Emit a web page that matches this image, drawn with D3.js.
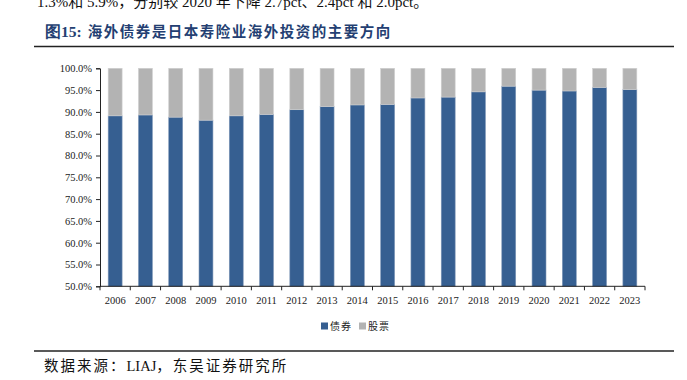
<html>
<head>
  <meta charset="UTF-8">
  <title>海外债券是日本寿险业海外投资的主要方向</title>
  <style>
    body { margin: 0; padding: 0; background: #fff; }
    svg { display: block; }
  </style>
</head>
<body>
  <div id="chart"></div>
  <script src="https://cdnjs.cloudflare.com/ajax/libs/d3/7.8.4/d3.min.js"></script>
  <script>
    // data (bond share, %)
    const years = ["2006", "2007", "2008", "2009", "2010", "2011", "2012", "2013", "2014",
      "2015", "2016", "2017", "2018", "2019", "2020", "2021", "2022", "2023"];
    const bonds = [89.1, 89.3, 88.8, 88.1, 89.1, 89.4, 90.5, 91.2, 91.6,
      91.7, 93.2, 93.4, 94.6, 95.9, 95.0, 94.8, 95.6, 95.1];
    const stocks = bonds.map(v => 100 - v);
    const yTicks = [50, 55, 60, 65, 70, 75, 80, 85, 90, 95, 100];
    const seriesNames = ["债券", "股票"];

    const width = 687, height = 380;
    const plotLeft = 100, plotRight = 645, plotTop = 68.3, plotBottom = 286.3;
    const blue = "#365f91", grey = "#b3b3b3";
    const serif = "'Liberation Serif', 'Times New Roman', serif";
    const cjk = "'Noto Sans CJK SC', sans-serif";

    const svg = d3.select("#chart").append("svg")
      .attr("width", width).attr("height", height);

    // text from the page above the chart (cut off by the crop)
    svg.append("text")
      .attr("x", 37).attr("y", 7)
      .attr("font-family", serif + ", " + cjk).attr("font-size", 15).attr("fill", "#111")
      .text("1.3%和 5.9%，分别较 2020 年下降 2.7pct、2.4pct 和 2.0pct。");

    // title
    const title = svg.append("text")
      .attr("x", 45).attr("y", 37)
      .attr("font-weight", "bold").attr("fill", "#243f72");
    title.append("tspan").attr("font-family", serif).attr("font-size", 15.5).text("图15:");
    title.append("tspan").attr("font-family", cjk).attr("font-size", 14.5)
      .attr("letter-spacing", 1.5).attr("dx", 6).text("海外债券是日本寿险业海外投资的主要方向");

    svg.append("line").attr("x1", 34).attr("x2", 674).attr("y1", 46.5).attr("y2", 46.5)
      .attr("stroke", "#222").attr("stroke-width", 1.6);

    const x = d3.scaleBand().domain(years).range([plotLeft, plotRight]).paddingInner(0.54).paddingOuter(0.27);
    const y = d3.scaleLinear().domain([50, 100]).range([plotBottom, plotTop]);

    const data = years.map((yr, i) => ({ year: yr, bond: bonds[i], stock: stocks[i] }));

    // bond bars
    svg.selectAll("rect.bond").data(data).enter().append("rect")
      .attr("class", "bond")
      .attr("x", d => x(d.year)).attr("width", x.bandwidth())
      .attr("y", d => y(d.bond)).attr("height", d => y(50) - y(d.bond))
      .attr("fill", blue).attr("stroke", "#7f97b8").attr("stroke-width", 0.6);

    // stock bars stacked on top
    svg.selectAll("rect.stock").data(data).enter().append("rect")
      .attr("class", "stock")
      .attr("x", d => x(d.year)).attr("width", x.bandwidth())
      .attr("y", d => y(d.bond + d.stock)).attr("height", d => y(d.bond) - y(d.bond + d.stock))
      .attr("fill", grey).attr("stroke", "#d0d0d0").attr("stroke-width", 0.6);

    // y axis
    const yAxis = svg.append("g").attr("transform", `translate(${plotLeft},0)`)
      .call(d3.axisLeft(y).tickValues(yTicks).tickSize(4).tickPadding(4)
        .tickFormat(d => d.toFixed(1) + "%"));
    yAxis.selectAll("text").attr("font-family", serif).attr("font-size", 10.5).attr("fill", "#222");
    yAxis.selectAll("line, path").attr("stroke", "#222");

    // x axis, ticks between categories
    const xAxis = svg.append("g").attr("transform", `translate(0,${plotBottom})`);
    xAxis.append("line").attr("x1", plotLeft).attr("x2", plotRight).attr("stroke", "#222");
    xAxis.selectAll("line.tick").data(d3.range(years.length + 1)).enter().append("line")
      .attr("class", "tick")
      .attr("x1", i => plotLeft + i * (plotRight - plotLeft) / years.length)
      .attr("x2", i => plotLeft + i * (plotRight - plotLeft) / years.length)
      .attr("y1", 0).attr("y2", 4).attr("stroke", "#222");
    xAxis.selectAll("text").data(years).enter().append("text")
      .attr("x", d => x(d) + x.bandwidth() / 2).attr("y", 18)
      .attr("text-anchor", "middle")
      .attr("font-family", serif).attr("font-size", 10.5).attr("fill", "#222")
      .text(d => d);

    // legend
    const legend = svg.append("g").attr("transform", "translate(321,326)");
    const lg = legend.selectAll("g").data(seriesNames).enter().append("g")
      .attr("transform", (d, i) => `translate(${i * 38},0)`);
    lg.append("rect").attr("x", 0).attr("y", -3.5).attr("width", 7).attr("height", 7)
      .attr("fill", (d, i) => i === 0 ? blue : grey);
    lg.append("text").attr("x", 9).attr("y", 4)
      .attr("font-family", cjk).attr("font-size", 10).attr("letter-spacing", 1).attr("fill", "#222")
      .text(d => d);

    // source
    svg.append("line").attr("x1", 34).attr("x2", 674).attr("y1", 351).attr("y2", 351)
      .attr("stroke", "#222").attr("stroke-width", 1.6);
    const src = svg.append("text").attr("x", 44).attr("y", 371)
      .attr("font-size", 14.5).attr("fill", "#111");
    src.append("tspan").attr("font-family", cjk).attr("letter-spacing", 2).text("数据来源：");
    src.append("tspan").attr("font-family", serif).text("LIAJ");
    src.append("tspan").attr("font-family", cjk).attr("letter-spacing", 2).text("，东吴证券研究所");
  </script>
</body>
</html>
